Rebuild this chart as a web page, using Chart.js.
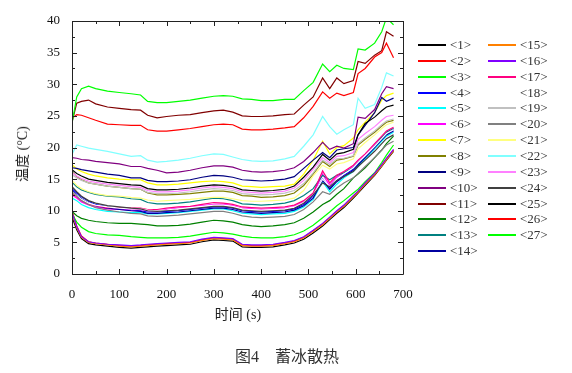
<!DOCTYPE html>
<html>
<head>
<meta charset="utf-8">
<script src="https://cdn.jsdelivr.net/npm/chart.js@4.4.1/dist/chart.umd.min.js"></script>
<style>
  body { margin: 0; background: #fff; }
  #wrap { position: relative; width: 572px; height: 373px; overflow: hidden; font-family: "Liberation Serif", "Noto Sans CJK SC", serif; }
  #chart { position: absolute; left: 0; top: 0; }
  .txt { position: absolute; white-space: nowrap; color: #222; }
  #ytitle { left: 21px; top: 154px; font-size: 14px; transform: translate(-50%, -50%) rotate(-90deg); }
  #xtitle { left: 238px; top: 313px; font-size: 14px; transform: translate(-50%, -50%); }
  #caption { left: 287px; top: 355px; font-size: 16px; color: #333; transform: translate(-50%, -50%); }
  #legend { position: absolute; left: 0; top: 0; }
</style>
</head>
<body>
<div id="wrap">
  <canvas id="chart" width="572" height="373"></canvas>
  <div id="legend"></div>
  <div class="txt" id="ytitle">温度 (°C)</div>
  <div class="txt" id="xtitle">时间 (s)</div>
  <div class="txt" id="caption">图4　蓄冰散热</div>
</div>
<script>
// time axis (s), shared by all channels
const times = [0, 10, 20, 35, 50, 75, 100, 125, 145, 160, 180, 200, 225, 250, 275, 300, 320, 340, 360, 380,
  400, 425, 450, 470, 490, 510, 530, 545, 560, 575, 595, 605, 620, 640, 655, 665, 680];

// temperature of each measuring point (°C)
const t1 = [9.0, 7.0, 5.6, 4.8, 4.6, 4.4, 4.2, 4.1, 4.2, 4.3, 4.4, 4.5, 4.6, 4.7, 5.1, 5.4, 5.3, 5.2, 4.3, 4.2, 4.2, 4.3, 4.6, 4.9, 5.5, 6.5, 7.6, 8.6, 9.6, 10.5, 12.0, 12.8, 14.0, 15.6, 17.0, 18.0, 19.4];
const t2 = [10.0, 7.6, 6.0, 5.1, 4.9, 4.7, 4.5, 4.4, 4.5, 4.6, 4.7, 4.8, 4.9, 5.0, 5.4, 5.7, 5.6, 5.5, 4.6, 4.5, 4.5, 4.6, 4.9, 5.2, 5.8, 6.8, 7.9, 8.9, 9.9, 10.8, 12.3, 13.0, 14.3, 15.8, 17.2, 18.2, 19.6];
const t3 = [9.5, 8.2, 7.4, 6.7, 6.4, 6.2, 6.1, 5.9, 5.8, 5.7, 5.7, 5.7, 5.8, 6.0, 6.3, 6.6, 6.5, 6.3, 6.0, 5.8, 5.7, 5.7, 5.9, 6.2, 6.8, 7.7, 8.9, 9.8, 10.8, 11.6, 12.8, 13.4, 14.6, 16.0, 17.6, 18.8, 20.4];
const t4 = [13.5, 12.8, 12.2, 11.5, 11.0, 10.6, 10.3, 10.1, 10.0, 9.8, 9.8, 9.9, 10.0, 10.2, 10.4, 10.6, 10.6, 10.4, 10.0, 9.9, 9.8, 9.9, 10.0, 10.3, 11.0, 12.3, 15.0, 13.6, 14.8, 15.6, 16.6, 17.4, 18.6, 20.2, 21.4, 22.2, 22.8];
const t5 = [12.0, 11.6, 11.0, 10.5, 10.2, 9.9, 9.8, 9.7, 9.7, 9.5, 9.5, 9.6, 9.7, 9.9, 10.1, 10.3, 10.3, 10.0, 9.6, 9.5, 9.4, 9.5, 9.6, 9.9, 10.6, 11.8, 14.6, 13.0, 14.2, 15.2, 16.2, 17.0, 18.2, 19.8, 21.0, 21.8, 22.4];
const t6 = [12.5, 12.0, 11.4, 10.9, 10.6, 10.3, 10.2, 10.1, 10.2, 10.0, 10.0, 10.2, 10.4, 10.6, 10.8, 11.0, 11.0, 10.8, 10.4, 10.3, 10.2, 10.3, 10.4, 10.7, 11.4, 12.6, 15.8, 14.0, 15.3, 16.0, 17.0, 17.8, 18.8, 20.4, 21.6, 22.4, 23.0];
const t7 = [17.3, 16.6, 16.2, 15.8, 15.5, 15.2, 15.0, 14.9, 14.9, 14.4, 14.1, 14.1, 14.2, 14.4, 14.6, 14.7, 14.6, 14.4, 13.9, 13.8, 13.7, 13.8, 13.9, 14.2, 15.8, 18.0, 21.0, 19.0, 20.0, 20.3, 21.5, 22.8, 24.0, 25.5, 27.5, 28.2, 28.6];
const t8 = [16.2, 15.4, 14.9, 14.4, 14.2, 13.9, 13.7, 13.5, 13.4, 12.8, 12.5, 12.5, 12.6, 12.7, 12.9, 13.1, 13.1, 12.9, 12.4, 12.3, 12.1, 12.2, 12.4, 12.8, 14.0, 15.8, 17.8, 17.0, 18.0, 18.2, 18.6, 20.4, 21.3, 22.4, 23.4, 24.0, 24.3];
const t9 = [16.8, 16.7, 16.5, 16.3, 16.1, 15.8, 15.6, 15.2, 15.2, 14.8, 14.6, 14.6, 14.7, 14.9, 15.3, 15.6, 15.5, 15.3, 14.9, 14.8, 14.7, 14.8, 15.0, 15.4, 16.7, 18.0, 19.2, 18.4, 19.6, 19.8, 20.0, 22.0, 23.5, 25.5, 27.9, 27.3, 27.8];
const t10 = [18.4, 18.3, 18.1, 18.0, 17.8, 17.6, 17.4, 17.0, 17.0, 16.7, 16.4, 16.0, 16.1, 16.4, 16.8, 17.1, 17.1, 16.9, 16.4, 16.2, 16.1, 16.2, 16.4, 16.8, 17.8, 19.2, 20.8, 19.7, 20.2, 19.9, 20.6, 24.8, 24.6, 26.0, 28.5, 29.6, 29.3];
const t11 = [24.0, 27.0, 27.3, 27.5, 26.9, 26.4, 26.2, 26.0, 25.9, 25.1, 24.7, 24.9, 25.1, 25.2, 25.5, 25.8, 25.9, 25.6, 25.0, 24.9, 24.9, 25.0, 25.2, 25.3, 26.7, 28.0, 31.0, 29.3, 31.0, 30.1, 30.6, 33.6, 33.3, 34.6, 35.3, 38.3, 37.6];
const t12 = [9.9, 9.2, 8.8, 8.5, 8.3, 8.1, 8.0, 8.0, 7.9, 7.8, 7.6, 7.6, 7.7, 7.9, 8.2, 8.5, 8.4, 8.2, 7.8, 7.6, 7.5, 7.6, 7.8, 8.1, 8.8, 9.8, 11.0, 11.6, 12.6, 13.5, 15.2, 15.8, 16.8, 18.4, 19.6, 20.6, 21.8];
const t13 = [14.5, 13.8, 13.3, 12.9, 12.6, 12.3, 12.2, 11.9, 11.8, 11.3, 11.1, 11.1, 11.2, 11.4, 11.7, 12.0, 11.9, 11.6, 11.1, 11.0, 10.9, 11.0, 11.2, 11.6, 12.4, 13.5, 15.6, 14.9, 15.6, 16.0, 16.8, 17.6, 18.6, 20.2, 21.6, 22.4, 23.0];
const t14 = [13.2, 12.5, 11.9, 11.2, 10.8, 10.4, 10.2, 10.0, 9.9, 9.6, 9.6, 9.7, 9.8, 10.0, 10.2, 10.4, 10.4, 10.2, 9.8, 9.7, 9.6, 9.7, 9.8, 10.1, 10.8, 12.0, 14.8, 13.4, 14.6, 15.4, 16.4, 17.2, 18.4, 20.0, 21.2, 22.0, 22.6];
const t15 = [9.5, 7.3, 5.8, 5.0, 4.8, 4.6, 4.4, 4.3, 4.4, 4.5, 4.6, 4.7, 4.8, 4.9, 5.3, 5.6, 5.5, 5.4, 4.5, 4.4, 4.4, 4.5, 4.8, 5.1, 5.7, 6.7, 7.8, 8.8, 9.8, 10.7, 12.2, 12.9, 14.2, 15.7, 17.1, 18.1, 19.5];
const t16 = [9.7, 7.5, 5.9, 5.1, 4.9, 4.7, 4.6, 4.5, 4.6, 4.7, 4.8, 4.9, 5.0, 5.1, 5.5, 5.8, 5.7, 5.6, 4.7, 4.6, 4.6, 4.7, 5.0, 5.3, 5.9, 6.9, 8.0, 9.0, 10.0, 10.9, 12.4, 13.1, 14.4, 15.9, 17.3, 18.3, 19.7];
const t17 = [12.8, 12.2, 11.6, 11.0, 10.8, 10.5, 10.5, 10.4, 10.4, 10.2, 10.2, 10.4, 10.6, 10.7, 11.0, 11.3, 11.2, 11.0, 10.6, 10.5, 10.4, 10.5, 10.6, 10.9, 11.6, 12.8, 16.3, 14.4, 15.6, 16.2, 17.2, 18.0, 19.0, 20.6, 21.8, 22.6, 23.2];
const t18 = [13.0, 12.4, 11.8, 11.2, 10.9, 10.6, 10.4, 10.3, 10.3, 10.1, 10.0, 10.1, 10.3, 10.5, 10.7, 10.9, 10.9, 10.7, 10.3, 10.2, 10.1, 10.2, 10.3, 10.6, 11.3, 12.5, 15.0, 13.8, 15.0, 15.8, 16.8, 17.6, 18.7, 20.2, 21.4, 22.2, 22.8];
const t19 = [15.7, 15.2, 14.8, 14.4, 14.2, 13.9, 13.7, 13.5, 13.4, 12.9, 12.7, 12.7, 12.8, 13.0, 13.3, 13.5, 13.4, 13.2, 12.7, 12.6, 12.5, 12.6, 12.8, 13.2, 14.3, 16.0, 18.0, 17.3, 18.2, 18.3, 18.7, 20.6, 21.5, 22.6, 23.6, 24.2, 24.5];
const t20 = [13.0, 12.3, 11.6, 11.0, 10.5, 10.1, 9.8, 9.6, 9.5, 9.2, 9.1, 9.2, 9.3, 9.5, 9.7, 9.9, 9.9, 9.6, 9.2, 9.0, 8.9, 9.0, 9.1, 9.4, 10.2, 11.4, 13.0, 12.6, 13.6, 14.4, 15.2, 15.9, 17.0, 18.4, 19.6, 20.4, 21.0];
const t21 = [14.8, 14.0, 13.5, 13.0, 12.7, 12.4, 12.3, 12.1, 12.0, 11.7, 11.5, 11.6, 11.7, 11.8, 12.0, 12.1, 12.1, 11.9, 11.6, 11.5, 11.5, 11.6, 11.7, 12.0, 13.2, 15.5, 17.2, 16.6, 17.4, 17.6, 18.2, 19.8, 20.8, 22.0, 23.0, 23.6, 24.0];
const t22 = [18.9, 20.4, 20.2, 19.9, 19.7, 19.4, 19.0, 18.6, 18.7, 18.0, 17.7, 17.8, 18.0, 18.3, 18.7, 19.0, 18.9, 18.5, 18.1, 17.9, 17.8, 17.9, 18.2, 18.6, 20.2, 22.0, 24.9, 23.3, 22.1, 22.8, 23.6, 27.8, 26.2, 26.8, 29.5, 31.8, 31.3];
const t23 = [16.0, 15.5, 15.1, 14.7, 14.5, 14.2, 14.0, 13.8, 13.7, 13.2, 13.0, 13.0, 13.1, 13.3, 13.6, 13.8, 13.7, 13.5, 13.0, 12.9, 12.8, 12.9, 13.1, 13.6, 14.8, 16.6, 18.4, 17.6, 18.6, 18.7, 19.2, 21.3, 22.2, 23.3, 24.3, 24.9, 25.1];
const t24 = [13.8, 13.0, 12.3, 11.6, 11.2, 10.8, 10.6, 10.4, 10.3, 10.0, 9.9, 10.0, 10.1, 10.3, 10.5, 10.7, 10.7, 10.5, 10.1, 10.0, 9.9, 10.0, 10.1, 10.4, 11.2, 12.5, 14.4, 13.8, 14.8, 15.4, 16.2, 17.0, 18.0, 19.4, 20.6, 21.4, 22.0];
const t25 = [16.5, 15.9, 15.5, 15.0, 14.8, 14.5, 14.3, 14.1, 14.0, 13.5, 13.3, 13.3, 13.4, 13.6, 13.9, 14.1, 14.0, 13.8, 13.3, 13.2, 13.1, 13.2, 13.4, 13.9, 15.3, 16.9, 18.9, 18.0, 19.0, 19.2, 19.7, 22.0, 23.8, 24.8, 25.8, 26.4, 26.7];
const t26 = [24.6, 25.2, 25.1, 24.7, 24.3, 23.7, 23.6, 23.5, 23.5, 22.8, 22.6, 22.6, 22.8, 23.0, 23.3, 23.6, 23.7, 23.6, 22.9, 22.8, 22.8, 22.9, 23.1, 23.3, 24.7, 26.5, 28.8, 27.8, 28.6, 28.2, 28.7, 31.7, 32.5, 34.3, 35.0, 36.5, 34.2];
const t27 = [23.8, 28.0, 29.3, 29.7, 29.3, 28.9, 28.7, 28.5, 28.3, 27.3, 27.1, 27.1, 27.3, 27.5, 27.8, 28.1, 28.2, 28.1, 27.7, 27.6, 27.4, 27.4, 27.6, 27.6, 29.0, 30.3, 33.2, 32.0, 33.0, 32.5, 32.3, 35.6, 35.4, 36.5, 38.3, 40.5, 39.4];

const seriesValues = [t1, t2, t3, t4, t5, t6, t7, t8, t9, t10, t11, t12, t13, t14, t15, t16, t17, t18, t19, t20, t21, t22, t23, t24, t25, t26, t27];
const seriesNames = ['<1>', '<2>', '<3>', '<4>', '<5>', '<6>', '<7>', '<8>', '<9>', '<10>', '<11>', '<12>', '<13>', '<14>',
  '<15>', '<16>', '<17>', '<18>', '<19>', '<20>', '<21>', '<22>', '<23>', '<24>', '<25>', '<26>', '<27>'];
const xTickLabels = [0, 100, 200, 300, 400, 500, 600, 700];
const yTickLabels = [0, 5, 10, 15, 20, 25, 30, 35, 40];

// Origin default colour cycle
const colors = ['#000000', '#ff0000', '#00ff00', '#0000ff', '#00ffff', '#ff00ff', '#ffff00', '#808000', '#000080',
  '#800080', '#800000', '#008000', '#008080', '#0000a0', '#ff8000', '#8000ff', '#ff0080', '#ffffff', '#c0c0c0',
  '#808080', '#ffff80', '#80ffff', '#ff80ff', '#404040', '#000000', '#ff0000', '#00ff00'];

function createLegend(legendId) {
  const box = document.getElementById(legendId);
  box.innerHTML = '';
  seriesNames.forEach((name, i) => {
    const col = i < 14 ? 0 : 1;
    const row = i < 14 ? i : i - 14;
    const item = document.createElement('div');
    item.style.position = 'absolute';
    item.style.left = (col === 0 ? 418 : 488) + 'px';
    item.style.top = (45 + row * 15.85 - 8) + 'px';
    item.style.height = '16px';
    item.style.display = 'flex';
    item.style.alignItems = 'center';
    item.style.whiteSpace = 'nowrap';

    // line sample
    const swatch = document.createElement('span');
    swatch.style.display = 'inline-block';
    swatch.style.width = '28px';
    swatch.style.height = '2px';
    swatch.style.marginRight = '4px';
    swatch.style.backgroundColor = colors[i];

    const text = document.createElement('span');
    text.textContent = name;
    text.style.fontSize = '13px';
    text.style.color = '#333';

    item.appendChild(swatch);
    item.appendChild(text);
    box.appendChild(item);
  });
}

// box frame with inward major / minor ticks on all four sides
const framePlugin = {
  id: 'frame',
  afterDatasetsDraw(chart) {
    const { ctx, chartArea: a, scales: { x, y } } = chart;
    ctx.save();
    ctx.strokeStyle = '#222';
    ctx.lineWidth = 1;
    ctx.beginPath();
    ctx.rect(Math.round(a.left) + 0.5, Math.round(a.top) + 0.5, Math.round(a.right - a.left), Math.round(a.bottom - a.top));
    const xStep = xTickLabels[1] - xTickLabels[0];
    for (let v = xTickLabels[0]; v <= xTickLabels[xTickLabels.length - 1]; v += xStep / 2) {
      const px = Math.round(x.getPixelForValue(v)) + 0.5;
      const len = v % xStep === 0 ? 5 : 3;
      ctx.moveTo(px, a.bottom); ctx.lineTo(px, a.bottom - len);
      ctx.moveTo(px, a.top); ctx.lineTo(px, a.top + len);
    }
    const yStep = yTickLabels[1] - yTickLabels[0];
    for (let v = yTickLabels[0]; v <= yTickLabels[yTickLabels.length - 1]; v += yStep / 2) {
      const py = Math.round(y.getPixelForValue(v)) + 0.5;
      const len = v % yStep === 0 ? 5 : 3;
      ctx.moveTo(a.left, py); ctx.lineTo(a.left + len, py);
      ctx.moveTo(a.right, py); ctx.lineTo(a.right - len, py);
    }
    ctx.stroke();
    ctx.restore();
  }
};

function createLineChart(chartId) {
  const ctx = document.getElementById(chartId).getContext('2d');
  const datasets = seriesValues.map((vals, i) => ({
    label: seriesNames[i],
    data: vals.map((v, k) => ({ x: times[k], y: v })),
    borderColor: colors[i],
    borderWidth: 1.2,
    pointRadius: 0,
    fill: false,
    tension: 0,
    order: -i // later channels on top, as in the original
  }));

  const tickFont = { family: 'Liberation Serif', size: 13 };

  return new Chart(ctx, {
    type: 'line',
    data: { datasets },
    options: {
      responsive: false,
      animation: false,
      layout: { padding: { left: 0, top: 21, right: 169, bottom: 0 } },
      plugins: {
        legend: { display: false },
        tooltip: { enabled: false }
      },
      scales: {
        x: {
          type: 'linear',
          min: xTickLabels[0],
          max: xTickLabels[xTickLabels.length - 1],
          grid: { display: false },
          border: { display: false },
          ticks: { stepSize: 100, font: tickFont, color: '#111', padding: 5, maxRotation: 0 },
          afterFit: (scale) => { scale.height = 99; }
        },
        y: {
          min: yTickLabels[0],
          max: yTickLabels[yTickLabels.length - 1],
          grid: { display: false },
          border: { display: false },
          ticks: { stepSize: 5, font: tickFont, color: '#111', padding: 4 },
          afterFit: (scale) => { scale.width = 72; }
        }
      }
    },
    plugins: [framePlugin]
  });
}

createLegend('legend');
createLineChart('chart');
</script>
</body>
</html>
